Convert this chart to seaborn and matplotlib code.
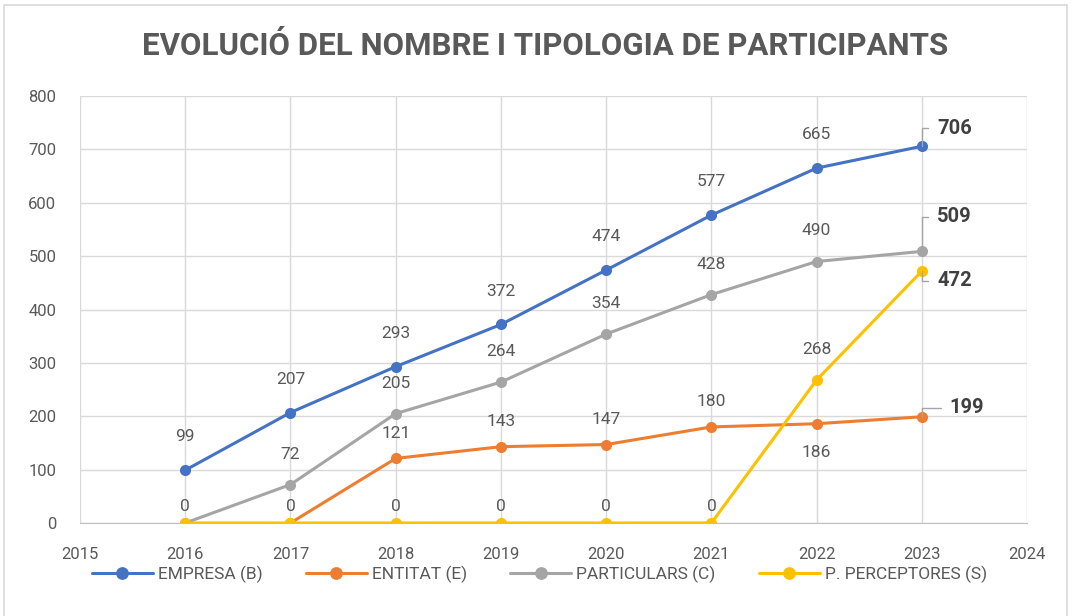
import numpy as np
import pandas as pd
import matplotlib.pyplot as plt
import seaborn as sns
from matplotlib.patches import Rectangle

# Data
years = [2016, 2017, 2018, 2019, 2020, 2021, 2022, 2023]
empresa = [99, 207, 293, 372, 474, 577, 665, 706]
entitat = [np.nan, 0, 121, 143, 147, 180, 186, 199]
particulars = [0, 72, 205, 264, 354, 428, 490, 509]
perceptores = [0, 0, 0, 0, 0, 0, 268, 472]

names = ["EMPRESA (B)", "ENTITAT (E)", "PARTICULARS (C)", "P. PERCEPTORES (S)"]
colors = ["#4472C4", "#ED7D31", "#A5A5A5", "#FFC000"]
text_col = "#595959"

sns.set_style("white")
plt.rcParams['font.family'] = ['Roboto', 'DejaVu Sans']

fig = plt.figure(figsize=(10.73, 6.16), dpi=100)
ax = fig.add_axes([0.0746, 0.151, 0.8826, 0.693])

series = [empresa, entitat, particulars, perceptores]
for name, vals, col in zip(names, series, colors):
    df = pd.DataFrame({"year": years, "value": vals}).dropna()
    sns.lineplot(data=df, x="year", y="value", ax=ax, color=col, marker="o",
                 markersize=8, markeredgewidth=0, linewidth=2.2, label=name)

# data labels (all but the last point); zeros labelled once
offsets = [24, 18, 22, 22]
labelled_zero = set()
for vals, off in zip(series, offsets):
    for x, v in zip(years[:-1], vals[:-1]):
        if np.isnan(v):
            continue
        dy = off
        if v == 0:
            dy = 12
            if x in labelled_zero:
                continue
            labelled_zero.add(x)
        if v == 186:
            dy = -21
        ax.annotate(f"{int(v)}", (x, v), xytext=(0, dy), textcoords="offset points",
                    ha="center", va="center", fontsize=12.5, color=text_col)

# last point labels with leader lines
last_off = [(11, 13), (20, 6.5), (11, 25), (11, -7)]
for vals, (dx, dy) in zip(series, last_off):
    v = vals[-1]
    ax.annotate(f"{int(v)}", (years[-1], v), xytext=(dx, dy), textcoords="offset points",
                ha="left", va="center", fontsize=14.5, fontweight="bold", color="#404040",
                arrowprops=dict(arrowstyle="-", color="#A5A5A5", lw=1,
                                shrinkA=4, shrinkB=0,
                                connectionstyle="angle,angleA=0,angleB=90,rad=0"))

ax.set_xlim(2015, 2024)
ax.set_ylim(0, 800)
ax.set_xticks(range(2015, 2025))
ax.set_yticks(range(0, 801, 100))
ax.grid(True, color="#D9D9D9", linewidth=1)
ax.set_axisbelow(True)
for s in ["top", "right", "left"]:
    ax.spines[s].set_visible(False)
ax.spines["bottom"].set_color("#BFBFBF")
ax.tick_params(axis="both", length=0, labelsize=12, labelcolor=text_col)
ax.tick_params(axis="x", pad=17)
ax.tick_params(axis="y", pad=17)
ax.set_xlabel("")
ax.set_ylabel("")

fig.text(0.508, 0.925, "EVOLUCIÓ DEL NOMBRE I TIPOLOGIA DE PARTICIPANTS",
         ha="center", va="center", fontsize=22.5, fontweight="bold", color=text_col)

ax.legend(loc="center", bbox_to_anchor=(0.485, -0.12), ncol=4, frameon=False,
          fontsize=12.5, handlelength=3.5, columnspacing=2.5, handletextpad=0.3,
          markerscale=1.15, labelcolor=text_col)

fig.add_artist(Rectangle((0.004, -0.01), 0.99, 1.002, transform=fig.transFigure,
                         fill=False, edgecolor="#D9D9D9", linewidth=1.2))

fig.savefig("out.png", dpi=100)
